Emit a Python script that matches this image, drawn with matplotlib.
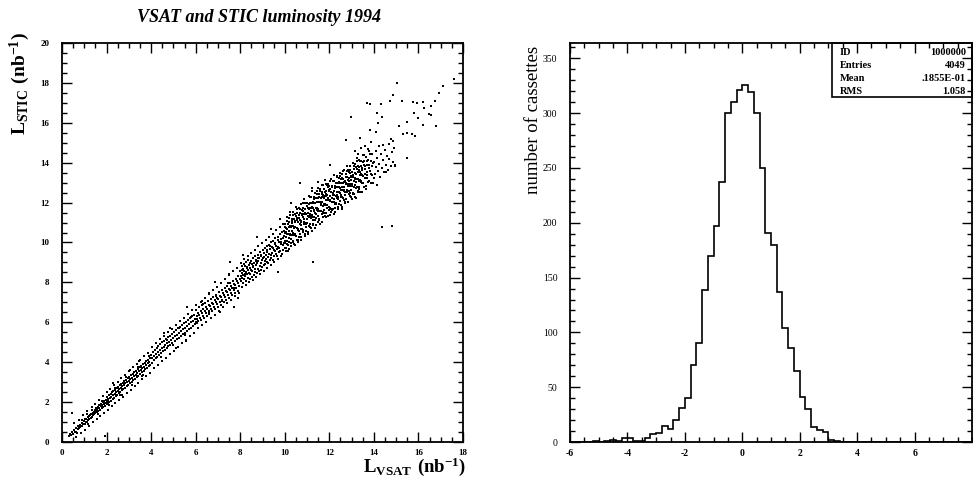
"""VSAT vs STIC luminosity scatter and per-cassette difference histogram (1994)."""

import matplotlib

matplotlib.use("Agg")

import matplotlib.pyplot as plt
import numpy as np
from matplotlib.patches import Rectangle
from matplotlib.ticker import MultipleLocator

plt.rcParams["font.family"] = ["Liberation Serif", "DejaVu Serif"]
plt.rcParams["mathtext.fontset"] = "custom"
plt.rcParams["mathtext.rm"] = "Liberation Serif"
plt.rcParams["mathtext.bf"] = "Liberation Serif:bold"
plt.rcParams["axes.unicode_minus"] = False

# L_VSAT, L_STIC pairs (nb^-1) in x slices
LUMI_0_2 = [
    (0.31, 0.29), (0.36, 0.41), (0.40, 0.33), (0.47, 0.50), (0.49, 0.38), (0.55, 0.58),
    (0.57, 0.49), (0.63, 0.52), (0.64, 0.71), (0.71, 0.63), (0.72, 0.78), (0.78, 0.70),
    (0.79, 0.86), (0.83, 0.77), (0.88, 0.95), (0.89, 0.81), (0.93, 0.88), (0.98, 1.04),
    (1.01, 0.92), (1.02, 1.13), (1.07, 1.01), (1.09, 1.17), (1.11, 0.99), (1.15, 1.24),
    (1.18, 1.10), (1.19, 1.31), (1.23, 1.16), (1.27, 1.35), (1.28, 1.21), (1.31, 1.42),
    (1.34, 1.26), (1.37, 1.47), (1.39, 1.33), (1.42, 1.52), (1.43, 1.38), (1.46, 1.61),
    (1.48, 1.44), (1.52, 1.57), (1.54, 1.69), (1.55, 1.48), (1.59, 1.63), (1.60, 1.77),
    (1.63, 1.54), (1.65, 1.70), (1.68, 1.84), (1.70, 1.62), (1.73, 1.78), (1.74, 1.91),
    (1.78, 1.69), (1.80, 1.86), (1.82, 1.98), (1.84, 1.75), (1.87, 1.90), (1.90, 2.05),
    (1.92, 1.81), (1.95, 1.96), (1.97, 2.11), (0.43, 1.44), (1.93, 0.30), (1.12, 1.38),
]
LUMI_2_4 = [
    (2.00, 1.88), (2.03, 2.02), (2.06, 2.17), (2.02, 2.25), (2.05, 1.95), (2.08, 2.12),
    (2.10, 2.34), (2.12, 2.01), (2.15, 2.21), (2.18, 2.40), (2.19, 2.07), (2.22, 2.28),
    (2.24, 2.49), (2.27, 2.15), (2.29, 2.36), (2.31, 2.55), (2.34, 2.22), (2.36, 2.42),
    (2.39, 2.61), (2.41, 2.29), (2.44, 2.50), (2.45, 2.69), (2.48, 2.37), (2.50, 2.58),
    (2.53, 2.76), (2.55, 2.44), (2.57, 2.65), (2.60, 2.84), (2.62, 2.51), (2.64, 2.71),
    (2.66, 2.93), (2.69, 2.60), (2.71, 2.79), (2.73, 2.98), (2.76, 2.66), (2.78, 2.86),
    (2.80, 3.05), (2.83, 2.72), (2.85, 2.94), (2.87, 3.12), (2.90, 2.80), (2.92, 3.01),
    (2.95, 3.20), (2.97, 2.88), (3.00, 3.08), (3.02, 3.27), (3.05, 2.95), (3.07, 3.15),
    (3.10, 3.35), (3.12, 3.02), (3.15, 3.22), (3.17, 3.42), (3.20, 3.10), (3.22, 3.31),
    (3.25, 3.49), (3.28, 3.17), (3.30, 3.38), (3.33, 3.58), (3.35, 3.25), (3.38, 3.46),
    (3.40, 3.66), (3.43, 3.33), (3.45, 3.55), (3.48, 3.74), (3.50, 3.41), (3.53, 3.62),
    (3.56, 3.82), (3.58, 3.49), (3.61, 3.70), (3.63, 3.90), (3.66, 3.57), (3.68, 3.78),
    (3.71, 3.97), (3.74, 3.64), (3.76, 3.86), (3.79, 4.05), (3.81, 3.72), (3.84, 3.94),
    (3.87, 4.13), (3.89, 3.80), (3.92, 4.01), (3.95, 4.21), (3.97, 3.88), (2.30, 2.95),
    (3.05, 3.60), (3.60, 3.30), (2.70, 2.35), (3.45, 4.05),
]
LUMI_4_6 = [
    (4.01, 4.35), (4.03, 3.98), (4.06, 4.20), (4.09, 4.52), (4.11, 4.10), (4.14, 4.31),
    (4.17, 4.61), (4.20, 4.19), (4.22, 4.42), (4.25, 4.72), (4.28, 4.27), (4.31, 4.50),
    (4.33, 4.80), (4.36, 4.38), (4.39, 4.61), (4.42, 4.91), (4.44, 4.46), (4.47, 4.69),
    (4.50, 5.00), (4.53, 4.55), (4.56, 4.78), (4.58, 5.07), (4.61, 4.63), (4.64, 4.86),
    (4.67, 5.17), (4.70, 4.72), (4.73, 4.95), (4.75, 5.25), (4.78, 4.80), (4.81, 5.03),
    (4.84, 5.33), (4.87, 4.88), (4.90, 5.12), (4.93, 5.42), (4.96, 4.97), (4.99, 5.21),
    (5.02, 5.50), (5.05, 5.05), (5.08, 5.29), (5.11, 5.60), (5.14, 5.14), (5.17, 5.38),
    (5.20, 5.69), (5.23, 5.22), (5.26, 5.47), (5.29, 5.78), (5.32, 5.31), (5.35, 5.55),
    (5.38, 5.86), (5.41, 5.39), (5.44, 5.64), (5.47, 5.95), (5.50, 5.48), (5.53, 5.72),
    (5.56, 6.04), (5.59, 5.56), (5.62, 5.81), (5.65, 6.12), (5.68, 5.65), (5.71, 5.90),
    (5.74, 6.21), (5.77, 5.73), (5.80, 5.99), (5.83, 6.30), (5.86, 5.82), (5.89, 6.07),
    (5.92, 6.39), (5.95, 5.90), (5.98, 6.16), (4.60, 5.45), (5.10, 4.70), (4.85, 5.70),
    (5.55, 5.05), (5.60, 6.75),
]
LUMI_6_8 = [
    (6.01, 6.62), (6.03, 6.00), (6.05, 6.30), (6.08, 6.15), (6.10, 6.48), (6.12, 6.05),
    (6.15, 6.78), (6.17, 6.38), (6.20, 6.22), (6.22, 6.55), (6.25, 6.12), (6.28, 6.46),
    (6.30, 6.85), (6.32, 6.30), (6.35, 6.65), (6.38, 6.20), (6.40, 6.55), (6.42, 6.95),
    (6.45, 6.48), (6.48, 6.75), (6.50, 6.30), (6.52, 6.68), (6.55, 7.05), (6.58, 6.58),
    (6.60, 6.88), (6.62, 6.42), (6.65, 6.80), (6.68, 7.15), (6.70, 6.66), (6.72, 6.98),
    (6.75, 6.55), (6.78, 6.92), (6.80, 7.28), (6.82, 6.78), (6.85, 7.10), (6.88, 6.65),
    (6.90, 7.04), (6.92, 7.38), (6.95, 6.90), (6.98, 7.22), (7.00, 6.78), (7.02, 7.15),
    (7.05, 7.50), (7.08, 7.02), (7.10, 7.34), (7.12, 6.88), (7.15, 7.26), (7.18, 7.60),
    (7.20, 7.12), (7.22, 7.45), (7.25, 7.00), (7.28, 7.38), (7.30, 7.72), (7.32, 7.25),
    (7.35, 7.58), (7.38, 7.12), (7.40, 7.50), (7.42, 7.84), (7.45, 7.36), (7.48, 7.68),
    (7.50, 7.22), (7.52, 7.62), (7.55, 7.95), (7.58, 7.48), (7.60, 7.80), (7.62, 7.35),
    (7.65, 7.72), (7.68, 8.08), (7.70, 7.60), (7.72, 7.92), (7.75, 7.45), (7.78, 7.85),
    (7.80, 8.18), (7.82, 7.72), (7.85, 8.05), (7.88, 7.58), (7.90, 7.95), (7.92, 8.30),
    (7.95, 7.84), (7.98, 8.15), (6.60, 7.45), (7.10, 6.50), (7.50, 8.40), (7.90, 7.20),
    (6.30, 7.05), (7.54, 9.04), (8.14, 9.37), (8.77, 10.26), (6.88, 8.04), (7.72, 6.78),
    (9.71, 8.54),
]
LUMI_8_10 = [
    (8.01, 8.55), (8.02, 8.05), (8.04, 8.32), (8.06, 8.80), (8.07, 8.20), (8.09, 8.45),
    (8.11, 7.95), (8.12, 8.68), (8.14, 8.38), (8.16, 8.90), (8.18, 8.15), (8.19, 8.58),
    (8.21, 8.30), (8.23, 8.82), (8.25, 8.05), (8.26, 8.50), (8.28, 9.02), (8.30, 8.40),
    (8.32, 8.72), (8.33, 8.22), (8.35, 8.62), (8.37, 9.10), (8.39, 8.48), (8.41, 8.85),
    (8.42, 8.15), (8.44, 8.70), (8.46, 8.40), (8.48, 9.05), (8.50, 8.60), (8.52, 8.28),
    (8.54, 8.90), (8.55, 8.55), (8.57, 9.20), (8.59, 8.75), (8.61, 8.38), (8.63, 8.98),
    (8.65, 8.65), (8.67, 9.30), (8.68, 8.50), (8.70, 8.85), (8.72, 9.12), (8.74, 8.45),
    (8.76, 8.95), (8.78, 8.68), (8.80, 9.38), (8.82, 9.05), (8.84, 8.58), (8.86, 9.22),
    (8.88, 8.80), (8.90, 9.50), (8.92, 8.98), (8.93, 8.62), (8.95, 9.30), (8.97, 9.10),
    (8.99, 8.75), (9.01, 9.60), (9.03, 9.20), (9.05, 8.85), (9.07, 9.45), (9.09, 9.05),
    (9.11, 9.70), (9.12, 8.92), (9.14, 9.35), (9.16, 9.15), (9.18, 9.82), (9.20, 9.00),
    (9.22, 9.52), (9.24, 9.28), (9.26, 8.95), (9.28, 9.88), (9.30, 9.42), (9.32, 9.12),
    (9.34, 9.65), (9.36, 9.35), (9.38, 10.02), (9.40, 9.20), (9.42, 9.75), (9.44, 9.48),
    (9.46, 9.10), (9.48, 10.10), (9.50, 9.62), (9.52, 9.32), (9.54, 9.90), (9.56, 9.55),
    (9.58, 10.22), (9.60, 9.40), (9.62, 9.82), (9.64, 9.68), (9.66, 9.30), (9.68, 10.30),
    (9.70, 9.75), (9.72, 9.50), (9.74, 10.05), (9.76, 9.70), (9.78, 10.45), (9.80, 9.55),
    (9.82, 9.92), (9.84, 10.18), (9.86, 9.42), (9.88, 10.55), (9.90, 9.85), (9.92, 9.62),
    (9.94, 10.25), (9.96, 9.98), (9.98, 10.60), (9.99, 9.70), (9.80, 11.20), (9.40, 10.70),
]
# wider spread of the band below x = 10
LUMI_FUZZ_LOW = [
    (0.55, 0.95), (0.62, 0.25), (0.75, 1.10), (0.85, 0.45), (0.96, 1.35), (1.05, 0.62),
    (1.14, 1.55), (1.22, 0.80), (1.33, 1.75), (1.40, 0.98), (1.50, 1.92), (1.57, 1.15),
    (1.66, 2.10), (1.72, 1.30), (1.83, 2.30), (1.90, 1.45), (2.01, 2.50), (2.08, 1.62),
    (2.17, 2.68), (2.25, 1.78), (2.33, 2.85), (2.40, 1.95), (2.50, 3.02), (2.58, 2.12),
    (2.67, 3.20), (2.74, 2.28), (2.84, 3.38), (2.92, 2.45), (3.00, 3.55), (3.09, 2.62),
    (3.18, 3.75), (3.26, 2.80), (3.35, 3.92), (3.43, 2.98), (3.52, 4.10), (3.60, 3.15),
    (3.70, 4.30), (3.78, 3.30), (3.88, 4.48), (3.95, 3.48), (0.68, 0.45), (0.90, 1.12),
    (1.16, 0.90), (1.36, 1.62), (1.62, 1.38), (1.79, 2.05), (2.13, 1.85), (2.38, 2.72),
    (2.62, 2.35), (2.88, 3.25), (3.13, 2.85), (3.40, 3.75), (3.64, 3.38), (3.90, 4.30),
]
LUMI_FUZZ_MID = [
    (4.05, 4.75), (4.12, 3.70), (4.22, 4.95), (4.30, 3.85), (4.40, 5.15), (4.48, 4.05),
    (4.57, 5.30), (4.66, 4.20), (4.76, 5.50), (4.83, 4.40), (4.93, 5.68), (5.02, 4.58),
    (5.12, 5.85), (5.20, 4.75), (5.30, 6.05), (5.38, 4.95), (5.48, 6.20), (5.57, 5.12),
    (5.66, 6.40), (5.75, 5.30), (5.85, 6.60), (5.93, 5.48), (6.03, 6.85), (6.12, 5.70),
    (6.22, 7.00), (6.30, 5.85), (6.40, 7.20), (6.48, 6.02), (6.58, 7.40), (6.67, 6.20),
    (6.76, 7.60), (6.85, 6.38), (6.95, 7.78), (7.03, 6.58), (7.13, 7.95), (7.22, 6.75),
    (7.32, 8.15), (7.40, 6.95), (7.50, 8.35), (7.58, 7.12), (7.68, 8.55), (7.77, 7.30),
    (7.86, 8.72), (7.95, 7.48), (4.18, 4.60), (4.45, 4.25), (4.70, 5.10), (4.98, 4.85),
    (5.25, 5.70), (5.52, 5.35), (5.78, 6.25), (6.07, 5.95), (6.34, 6.90), (6.62, 6.50),
    (6.90, 7.30), (7.17, 7.05), (7.45, 7.95), (7.72, 7.70),
]
LUMI_FUZZ_HIGH = [
    (8.03, 8.95), (8.10, 7.75), (8.18, 9.15), (8.25, 7.88), (8.34, 9.30), (8.41, 8.02),
    (8.50, 9.45), (8.57, 8.12), (8.66, 9.62), (8.73, 8.28), (8.82, 9.80), (8.89, 8.40),
    (8.98, 9.95), (9.05, 8.58), (9.14, 10.12), (9.21, 8.72), (9.30, 10.30), (9.37, 8.88),
    (9.46, 10.45), (9.53, 9.02), (9.62, 10.62), (9.69, 9.15), (9.78, 10.80), (9.85, 9.30),
    (9.94, 10.95), (8.07, 8.62), (8.20, 8.42), (8.31, 8.78), (8.45, 8.95), (8.56, 8.82),
    (8.69, 9.05), (8.81, 9.20), (8.94, 9.38), (9.06, 9.28), (9.19, 9.62), (9.33, 9.80),
    (9.45, 9.70), (9.57, 9.98), (9.70, 10.15), (9.83, 10.05), (9.95, 10.35),
]
LUMI_10_11 = [
    (10.00, 10.95), (10.01, 9.96), (10.03, 10.48), (10.04, 9.59), (10.05, 10.75),
    (10.07, 10.27), (10.08, 11.28), (10.10, 9.90), (10.11, 10.66), (10.12, 10.42),
    (10.14, 10.94), (10.15, 9.85), (10.17, 10.57), (10.18, 10.23), (10.20, 11.25),
    (10.21, 9.66), (10.22, 10.82), (10.24, 10.39), (10.25, 11.55), (10.27, 10.17),
    (10.28, 10.78), (10.30, 9.95), (10.31, 11.16), (10.33, 10.58), (10.34, 10.99),
    (10.35, 10.10), (10.37, 11.52), (10.38, 10.48), (10.40, 10.80), (10.41, 9.91),
    (10.43, 11.18), (10.44, 10.44), (10.45, 11.45), (10.47, 10.77), (10.48, 11.03),
    (10.50, 10.35), (10.51, 11.76), (10.53, 10.73), (10.54, 11.24), (10.55, 10.15),
    (10.57, 11.47), (10.58, 10.63), (10.60, 11.05), (10.61, 10.01), (10.62, 11.72),
    (10.64, 10.59), (10.65, 11.25), (10.67, 10.92), (10.68, 11.48), (10.70, 10.45),
    (10.71, 11.06), (10.72, 11.92), (10.74, 10.89), (10.75, 10.30), (10.77, 11.42),
    (10.78, 10.68), (10.80, 11.75), (10.81, 11.26), (10.82, 10.52), (10.84, 11.59),
    (10.85, 10.95), (10.87, 12.17), (10.88, 11.18), (10.90, 10.35), (10.91, 11.46),
    (10.92, 11.97), (10.94, 10.94), (10.95, 11.45), (10.97, 10.77), (10.98, 11.83),
    (10.99, 11.19), (10.68, 12.96), (10.30, 12.00),
    (10.01, 10.06), (10.03, 10.78), (10.05, 9.70), (10.07, 10.52), (10.09, 11.09),
    (10.11, 10.06), (10.13, 10.43), (10.15, 9.55), (10.17, 10.77), (10.19, 11.04),
    (10.21, 10.01), (10.23, 11.38), (10.25, 10.45), (10.27, 10.82), (10.29, 9.84),
    (10.31, 10.36), (10.33, 11.08), (10.35, 10.00), (10.37, 10.82), (10.39, 11.39),
    (10.41, 10.36), (10.43, 10.73), (10.45, 9.85), (10.47, 11.07), (10.49, 11.34),
    (10.51, 10.31), (10.53, 11.68), (10.55, 10.75), (10.57, 11.12), (10.59, 10.14),
    (10.61, 10.66), (10.63, 11.38), (10.65, 10.30), (10.67, 11.12), (10.69, 11.69),
    (10.71, 10.66), (10.73, 11.03), (10.75, 10.15), (10.77, 11.37), (10.79, 11.64),
    (10.81, 10.61), (10.83, 11.98), (10.85, 11.05), (10.87, 11.42), (10.89, 10.44),
    (10.91, 10.96), (10.93, 11.68), (10.95, 10.60), (10.97, 11.42), (10.99, 11.99),
]
LUMI_11_12 = [
    (11.00, 12.00), (11.01, 10.96), (11.03, 11.48), (11.04, 10.54), (11.05, 11.75),
    (11.07, 11.27), (11.08, 12.33), (11.09, 10.84), (11.11, 11.71), (11.12, 11.42),
    (11.13, 11.98), (11.15, 10.80), (11.16, 11.56), (11.17, 11.22), (11.19, 12.29),
    (11.20, 10.60), (11.21, 11.76), (11.23, 11.38), (11.24, 12.59), (11.25, 11.15),
    (11.27, 12.02), (11.28, 10.93), (11.30, 12.20), (11.31, 11.56), (11.32, 11.97),
    (11.34, 11.14), (11.35, 12.50), (11.36, 11.46), (11.38, 11.73), (11.39, 10.89),
    (11.41, 12.21), (11.42, 11.42), (11.43, 12.43), (11.45, 11.75), (11.46, 12.01),
    (11.47, 11.32), (11.49, 12.74), (11.50, 11.70), (11.51, 12.21), (11.53, 11.13),
    (11.54, 12.44), (11.55, 11.60), (11.57, 12.02), (11.58, 10.93), (11.59, 12.69),
    (11.61, 11.56), (11.62, 12.22), (11.63, 11.88), (11.65, 12.45), (11.66, 11.41),
    (11.67, 12.02), (11.69, 12.89), (11.70, 11.85), (11.71, 11.26), (11.73, 12.38),
    (11.74, 11.64), (11.75, 12.70), (11.77, 12.22), (11.78, 11.48), (11.79, 12.54),
    (11.81, 11.91), (11.82, 13.12), (11.83, 12.13), (11.85, 11.30), (11.86, 12.41),
    (11.87, 12.92), (11.89, 11.89), (11.90, 12.40), (11.91, 11.71), (11.93, 12.78),
    (11.94, 12.14), (11.95, 12.95), (11.97, 11.62), (11.98, 12.63), (11.50, 13.05),
    (11.20, 12.75), (11.28, 9.04),
    (11.01, 10.96), (11.03, 11.33), (11.05, 10.45), (11.07, 11.67), (11.09, 11.94),
    (11.11, 10.91), (11.13, 12.28), (11.15, 11.35), (11.17, 11.72), (11.19, 10.74),
    (11.21, 11.26), (11.23, 11.98), (11.25, 10.90), (11.27, 11.72), (11.29, 12.29),
    (11.31, 11.26), (11.33, 11.63), (11.35, 10.75), (11.37, 11.97), (11.39, 12.24),
    (11.41, 11.21), (11.43, 12.58), (11.45, 11.65), (11.47, 12.02), (11.49, 11.04),
    (11.51, 11.56), (11.53, 12.28), (11.55, 11.20), (11.57, 12.02), (11.59, 12.59),
    (11.61, 11.56), (11.63, 11.93), (11.65, 11.05), (11.67, 12.27), (11.69, 12.54),
    (11.71, 11.51), (11.73, 12.88), (11.75, 11.95), (11.77, 12.32), (11.79, 11.34),
    (11.81, 11.86), (11.83, 12.58), (11.85, 11.50), (11.87, 12.32), (11.89, 12.89),
    (11.91, 11.86), (11.93, 12.23), (11.95, 11.35), (11.97, 12.57), (11.99, 12.84),
]
LUMI_12_13 = [
    (12.00, 11.80), (12.01, 12.31), (12.03, 11.36), (12.04, 12.68), (12.05, 12.09),
    (12.07, 13.16), (12.08, 11.67), (12.09, 12.53), (12.11, 12.24), (12.12, 12.85),
    (12.13, 11.61), (12.15, 12.38), (12.16, 12.04), (12.17, 13.09), (12.19, 11.41),
    (12.20, 12.57), (12.21, 12.18), (12.23, 13.40), (12.24, 11.95), (12.25, 12.81),
    (12.27, 11.73), (12.28, 12.99), (12.30, 12.35), (12.31, 12.76), (12.32, 11.92),
    (12.34, 13.29), (12.35, 12.25), (12.36, 12.51), (12.38, 11.67), (12.39, 12.98),
    (12.40, 12.19), (12.42, 13.21), (12.43, 12.52), (12.44, 12.77), (12.46, 12.09),
    (12.47, 13.50), (12.48, 12.46), (12.50, 12.97), (12.51, 11.88), (12.52, 13.19),
    (12.54, 12.36), (12.55, 12.77), (12.56, 11.68), (12.58, 13.44), (12.59, 12.30),
    (12.60, 12.96), (12.62, 12.63), (12.63, 13.19), (12.64, 12.14), (12.66, 12.76),
    (12.67, 13.62), (12.68, 12.58), (12.70, 11.99), (12.71, 13.10), (12.72, 12.36),
    (12.74, 13.43), (12.75, 12.94), (12.76, 12.20), (12.78, 13.26), (12.79, 12.62),
    (12.80, 13.83), (12.82, 12.85), (12.83, 12.01), (12.84, 13.11), (12.86, 13.63),
    (12.87, 12.59), (12.88, 13.10), (12.90, 12.41), (12.91, 13.47), (12.92, 12.83),
    (12.94, 13.65), (12.95, 12.31), (12.96, 13.32), (12.98, 12.63), (12.99, 13.14),
    (12.03, 13.90),
    (12.01, 11.71), (12.03, 13.08), (12.05, 12.14), (12.07, 12.51), (12.09, 11.53),
    (12.11, 12.04), (12.13, 12.76), (12.15, 11.68), (12.17, 12.49), (12.19, 13.06),
    (12.21, 12.03), (12.23, 12.40), (12.25, 11.51), (12.27, 12.73), (12.29, 13.00),
    (12.31, 11.96), (12.33, 13.33), (12.35, 12.40), (12.37, 12.76), (12.39, 11.78),
    (12.41, 12.30), (12.43, 13.02), (12.45, 11.93), (12.47, 12.75), (12.49, 13.32),
    (12.51, 12.28), (12.53, 12.65), (12.55, 11.77), (12.57, 12.98), (12.59, 13.25),
    (12.61, 12.22), (12.63, 13.59), (12.65, 12.65), (12.67, 13.02), (12.69, 12.04),
    (12.71, 12.55), (12.73, 13.27), (12.75, 12.19), (12.77, 13.00), (12.79, 13.57),
    (12.81, 12.54), (12.83, 12.91), (12.85, 12.02), (12.87, 13.24), (12.89, 13.51),
    (12.91, 12.47), (12.93, 13.84), (12.95, 12.91), (12.97, 13.27), (12.99, 12.29),
]
LUMI_13_14 = [
    (13.00, 12.20), (13.02, 13.52), (13.03, 12.93), (13.05, 13.99), (13.06, 12.50),
    (13.08, 13.37), (13.09, 13.08), (13.11, 13.69), (13.12, 12.45), (13.14, 13.22),
    (13.15, 12.88), (13.17, 13.94), (13.18, 12.25), (13.20, 13.42), (13.21, 13.03),
    (13.23, 14.25), (13.24, 12.80), (13.26, 13.67), (13.27, 12.58), (13.29, 13.85),
    (13.30, 13.20), (13.32, 13.62), (13.33, 12.78), (13.35, 14.15), (13.36, 13.11),
    (13.38, 13.37), (13.39, 12.53), (13.41, 13.85), (13.42, 13.06), (13.44, 14.07),
    (13.45, 13.38), (13.47, 13.65), (13.48, 12.96), (13.50, 14.37), (13.52, 13.34),
    (13.54, 13.86), (13.55, 12.77), (13.57, 14.08), (13.59, 13.25), (13.61, 13.67),
    (13.63, 12.69), (13.65, 14.30), (13.67, 13.22), (13.69, 13.89), (13.71, 13.55),
    (13.73, 14.12), (13.76, 13.10), (13.78, 13.71), (13.80, 14.58), (13.83, 13.56),
    (13.85, 12.97), (13.88, 14.10), (13.90, 13.36), (13.93, 14.44), (13.96, 13.97),
    (13.99, 13.24), (13.15, 14.60), (13.40, 14.75), (13.60, 14.85), (13.85, 15.05),
    (13.30, 14.45), (13.75, 14.70),
    (13.01, 12.81), (13.03, 13.53), (13.05, 12.44), (13.07, 13.26), (13.09, 13.83),
    (13.11, 12.79), (13.13, 13.16), (13.15, 12.28), (13.17, 13.49), (13.19, 13.76),
    (13.21, 12.73), (13.23, 14.10), (13.25, 13.16), (13.27, 13.53), (13.29, 12.55),
    (13.31, 13.06), (13.33, 13.78), (13.35, 12.70), (13.37, 13.51), (13.39, 14.08),
    (13.41, 13.05), (13.43, 13.42), (13.45, 12.53), (13.47, 13.75), (13.49, 14.02),
    (13.52, 12.99), (13.55, 14.37), (13.58, 13.44), (13.61, 13.82), (13.64, 12.84),
    (13.67, 13.37), (13.70, 14.10), (13.74, 13.03), (13.78, 13.86), (13.82, 14.45),
    (13.86, 13.43), (13.90, 13.82), (13.95, 12.96),
]
LUMI_TAIL = [
    (14.02, 14.05), (14.05, 13.45), (14.08, 14.60), (14.10, 13.80), (14.12, 12.90),
    (14.15, 14.25), (14.18, 13.60), (14.22, 14.85), (14.25, 13.95), (14.28, 13.30),
    (14.32, 14.45), (14.35, 13.75), (14.40, 14.90), (14.43, 14.15), (14.47, 13.55),
    (14.50, 14.62), (14.54, 13.90), (14.58, 14.35), (14.62, 13.65), (14.66, 14.95),
    (14.70, 14.20), (14.75, 13.85), (14.80, 14.55), (14.86, 14.05), (14.92, 14.75),
    (14.54, 13.55), (14.97, 13.83), (15.47, 14.26), (14.80, 10.85), (14.35, 10.79),
    (14.95, 13.88), (15.02, 18.01), (17.09, 17.84), (17.60, 18.18), (16.93, 17.48),
    (14.87, 17.39), (15.25, 17.11), (13.68, 16.98), (13.82, 16.93), (14.32, 16.94),
    (14.72, 17.09), (15.74, 17.06), (15.95, 16.98), (16.22, 17.06), (16.76, 17.11),
    (16.56, 16.84), (16.26, 16.74), (14.12, 16.50), (16.48, 16.44), (16.55, 16.39),
    (15.81, 16.50), (12.96, 16.31), (14.36, 16.27), (15.96, 16.22), (15.50, 16.03),
    (15.14, 15.84), (14.20, 15.97), (16.19, 15.90), (16.77, 15.84), (13.82, 15.64),
    (14.08, 15.52), (15.50, 15.50), (15.70, 15.42), (15.84, 15.34), (15.32, 15.44),
    (12.73, 15.14), (13.37, 15.22), (14.77, 15.17), (14.84, 15.10),
]

# histogram of cassettes, 70 bins of 0.2 from -6 to 8
HIST_RANGE = (-6.0, 8.0)
CASSETTE_COUNTS = [
    0, 0, 0, 0, 1, 0, 1, 2, 1, 4,
    4, 1, 1, 4, 7, 8, 15, 12, 20, 31,
    40, 70, 90, 139, 170, 197, 237, 300, 310, 321,
    326, 319, 300, 250, 191, 180, 137, 104, 86, 65,
    41, 30, 14, 11, 9, 2, 1, 0, 0, 0,
    0, 0, 0, 0, 0, 0, 0, 0, 0, 0,
    0, 0, 0, 0, 0, 0, 0, 0, 0, 0,
]
STATS_LABELS = ["ID", "Entries", "Mean", "RMS"]
STATS_VALUES = ["1000000", "4049", ".1855E-01", "1.058"]

W, H = 973, 480


def style_axes(ax, label_size, weight):
    for spine in ax.spines.values():
        spine.set_linewidth(1.3)
    ax.tick_params(which="both", direction="in", top=True, right=True,
                   labelsize=label_size, width=1.0)
    ax.tick_params(which="major", length=7)
    ax.tick_params(which="minor", length=3.5)
    ax.tick_params(axis="y", pad=9)
    ax.tick_params(axis="x", pad=5)
    for lab in ax.get_xticklabels() + ax.get_yticklabels():
        lab.set_fontweight(weight)


fig = plt.figure(figsize=(W / 100, H / 100), dpi=100)

# left: scatter
ax1 = fig.add_axes([62 / W, 38 / H, 401 / W, 399 / H])
pts = np.array(LUMI_0_2 + LUMI_2_4 + LUMI_4_6 + LUMI_6_8 + LUMI_8_10
               + LUMI_FUZZ_LOW + LUMI_FUZZ_MID + LUMI_FUZZ_HIGH
               + LUMI_10_11 + LUMI_11_12 + LUMI_12_13 + LUMI_13_14 + LUMI_TAIL)
ax1.scatter(pts[:, 0], pts[:, 1], s=2.6, marker="s", color="black", linewidths=0)
ax1.set_xlim(0, 18)
ax1.set_ylim(0, 20)
ax1.xaxis.set_major_locator(MultipleLocator(2))
ax1.xaxis.set_minor_locator(MultipleLocator(0.5))
ax1.yaxis.set_major_locator(MultipleLocator(2))
ax1.yaxis.set_minor_locator(MultipleLocator(0.5))
style_axes(ax1, 6.5, "bold")

fig.text(259 / W, 1 - 18 / H, "VSAT and STIC luminosity 1994", ha="center",
         va="center", fontsize=13, fontweight="bold", fontstyle="italic")
fig.text(20 / W, 1 - 84 / H, r"$\mathbf{L_{STIC}\ (nb^{-1})}$", rotation=90,
         ha="center", va="center", fontsize=14)
fig.text(466 / W, 2 / H, r"$\mathbf{L_{VSAT}\ (nb^{-1})}$", ha="right",
         va="bottom", fontsize=13.5)

# right: histogram
ax2 = fig.add_axes([570 / W, 38 / H, 402 / W, 399 / H])
edges = np.linspace(HIST_RANGE[0], HIST_RANGE[1], len(CASSETTE_COUNTS) + 1)
ax2.stairs(CASSETTE_COUNTS, edges, color="black", linewidth=1.2)
ax2.set_xlim(*HIST_RANGE)
ax2.set_ylim(0, 364)
ax2.set_xticks(np.arange(-6, 7, 2))
ax2.xaxis.set_minor_locator(MultipleLocator(0.5))
ax2.yaxis.set_major_locator(MultipleLocator(50))
ax2.yaxis.set_minor_locator(MultipleLocator(10))
style_axes(ax2, 7, "normal")
for lab in ax2.get_xticklabels():
    lab.set_fontweight("bold")

fig.text(533 / W, 1 - 120 / H, "number of cassettes", rotation=90, ha="center",
         va="center", fontsize=13.5)

# stats box
box_left = (832 - 570) / 402
box_bottom = (442 - 97) / 399
ax2.add_patch(Rectangle((box_left, box_bottom), 1 - box_left, 1 - box_bottom,
                        transform=ax2.transAxes, fill=False, linewidth=1.2,
                        edgecolor="black", clip_on=False))
row_px = [52.5, 65.5, 78.5, 91]
for label, value, ypx in zip(STATS_LABELS, STATS_VALUES, row_px):
    yfrac = (442 - ypx) / 399
    ax2.text(box_left + 0.02, yfrac, label, transform=ax2.transAxes,
             fontsize=7.5, fontweight="bold", va="center", ha="left")
    ax2.text(0.985, yfrac, value, transform=ax2.transAxes,
             fontsize=7.5, fontweight="bold", va="center", ha="right")

fig.savefig("out.png", dpi=100)
